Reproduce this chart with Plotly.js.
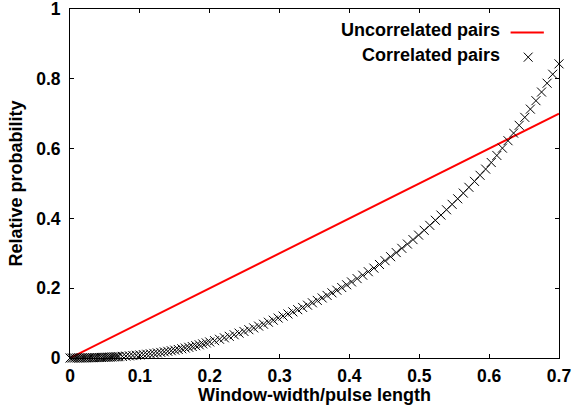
<!DOCTYPE html>
<html><head><meta charset="utf-8">
<script src="https://cdn.plot.ly/plotly-3.0.1.min.js"></script>
<style>html,body{margin:0;padding:0;background:#fff}#chart{width:573px;height:405px}</style>
</head><body><div id="chart"></div>
<script>
// Series names
const seriesNames = ['Uncorrelated pairs', 'Correlated pairs'];

// Uncorrelated pairs (straight line)
const uncorrX = [0, 0.7];
const uncorrY = [0, 0.7];

// Correlated pairs
const corrX = [
  0, 0.0025, 0.005, 0.0075, 0.01, 0.0125, 0.015, 0.0175, 0.02, 0.0225, 0.025, 0.0275, 0.03, 0.0325, 0.035,
  0.0375, 0.04, 0.0425, 0.045, 0.0475, 0.05, 0.0525, 0.055, 0.0575, 0.06, 0.0625, 0.065, 0.0675, 0.07,
  0.075, 0.08, 0.085, 0.09, 0.095, 0.1, 0.105, 0.11, 0.115, 0.12, 0.125, 0.13, 0.135, 0.14, 0.145,
  0.15, 0.155, 0.16, 0.165, 0.17, 0.175, 0.18, 0.185, 0.19, 0.195, 0.2,
  0.207, 0.214, 0.221, 0.228, 0.235, 0.242, 0.249, 0.256, 0.263, 0.27, 0.277, 0.284, 0.291, 0.298,
  0.305, 0.312, 0.319, 0.326, 0.333, 0.34, 0.347, 0.354, 0.361, 0.368, 0.375, 0.382, 0.389, 0.396, 0.403,
  0.411, 0.419, 0.427, 0.435, 0.443, 0.451, 0.459, 0.467, 0.475, 0.483, 0.491, 0.499, 0.507, 0.515,
  0.523, 0.531, 0.539, 0.547, 0.555, 0.563, 0.571, 0.579, 0.587, 0.595, 0.603, 0.611, 0.619, 0.627,
  0.635, 0.643, 0.651, 0.659, 0.667, 0.675, 0.683, 0.691, 0.7
];
const corrY = [
  0, 0, 0, 0, 0.0001, 0.0001, 0.0002, 0.0002, 0.0003, 0.0004, 0.0005, 0.0006, 0.0007, 0.0008, 0.001,
  0.0011, 0.0013, 0.0014, 0.0016, 0.0018, 0.002, 0.0022, 0.0024, 0.0026, 0.0029, 0.0031, 0.0034, 0.0036, 0.0039,
  0.0046, 0.0054, 0.0061, 0.0070, 0.0078, 0.0087, 0.0097, 0.0108, 0.0120, 0.0133, 0.0146, 0.0160, 0.0175, 0.0191, 0.0208,
  0.0225, 0.0244, 0.0264, 0.0285, 0.0306, 0.0329, 0.0353, 0.0378, 0.0404, 0.0432, 0.046,
  0.0497, 0.0537, 0.0578, 0.0621, 0.0666, 0.0713, 0.0761, 0.0811, 0.0862, 0.0914, 0.0968, 0.1025, 0.1083, 0.1144,
  0.1202, 0.1262, 0.1322, 0.1385, 0.1449, 0.1514, 0.1582, 0.1650, 0.1721, 0.1793, 0.1867, 0.1942, 0.2019, 0.2098, 0.2179,
  0.2275, 0.2373, 0.2473, 0.2575, 0.2680, 0.2788, 0.2903, 0.3021, 0.3142, 0.3265, 0.3392, 0.3521, 0.3659, 0.3801,
  0.3946, 0.4095, 0.4247, 0.4403, 0.4562, 0.4725, 0.4891, 0.5061, 0.5235, 0.5413, 0.5601, 0.5804, 0.6013, 0.6226,
  0.6444, 0.6667, 0.6895, 0.7131, 0.7373, 0.7620, 0.7873, 0.8131, 0.8428
];

// Tick labels
const xTickVals = [0, 0.1, 0.2, 0.3, 0.4, 0.5, 0.6, 0.7];
const xTickText = ['0', '0.1', '0.2', '0.3', '0.4', '0.5', '0.6', '0.7'];
const yTickVals = [0, 0.2, 0.4, 0.6, 0.8, 1];
const yTickText = ['0', '0.2', '0.4', '0.6', '0.8', '1'];

const FONT = 'Liberation Sans, Arial, Helvetica, sans-serif';

const traces = [
  {
    x: uncorrX, y: uncorrY, name: seriesNames[0], type: 'scatter', mode: 'lines',
    line: {color: '#ff0000', width: 2}, hoverinfo: 'skip'
  },
  {
    x: corrX, y: corrY, name: seriesNames[1], type: 'scatter', mode: 'markers',
    marker: {symbol: 'x-thin-open', size: 9, color: '#000000', line: {color: '#000000', width: 1}},
    cliponaxis: false, hoverinfo: 'skip'
  }
];

const axisCommon = {
  showgrid: false, zeroline: false, showline: true, linecolor: '#000', linewidth: 1,
  mirror: 'ticks', ticks: 'inside', ticklen: 4, tickwidth: 1, tickcolor: '#000',
  tickfont: {family: FONT, size: 17.5, color: '#000', weight: 'bold'},
  tickmode: 'array', fixedrange: true, ticklabeloverflow: 'allow'
};

// legend (gnuplot style: text then sample), in paper coords
const legendTextX = 0.883;
const legendRows = [0.940, 0.868];

const layout = {
  width: 573, height: 405,
  margin: {l: 70, r: 14, t: 9, b: 47, pad: 0},
  paper_bgcolor: '#fff', plot_bgcolor: '#fff',
  showlegend: false,
  xaxis: Object.assign({}, axisCommon, {
    range: [0, 0.7], tickvals: xTickVals, ticktext: xTickText,
    ticklabelstandoff: 2,
    title: {text: 'Window-width/pulse length', standoff: 6,
            font: {family: FONT, size: 18, color: '#000', weight: 'bold'}}
  }),
  yaxis: Object.assign({}, axisCommon, {
    range: [0, 1], tickvals: yTickVals, ticktext: yTickText,
    ticklabelstandoff: 5,
    title: {text: 'Relative probability', standoff: 8,
            font: {family: FONT, size: 18, color: '#000', weight: 'bold'}}
  }),
  annotations: [
    {xref: 'paper', yref: 'paper', x: legendTextX, y: legendRows[0], xanchor: 'right', yanchor: 'middle',
     text: seriesNames[0], showarrow: false, font: {family: FONT, size: 18, color: '#000', weight: 'bold'}},
    {xref: 'paper', yref: 'paper', x: legendTextX, y: legendRows[1], xanchor: 'right', yanchor: 'middle',
     text: seriesNames[1], showarrow: false, font: {family: FONT, size: 18, color: '#000', weight: 'bold'}}
  ],
  shapes: [
    {type: 'line', xref: 'paper', yref: 'paper', x0: 0.901, x1: 0.969, y0: 0.933, y1: 0.933,
     line: {color: '#ff0000', width: 2}},
    {type: 'line', xref: 'paper', yref: 'paper', x0: 0.928, x1: 0.946, y0: 0.849, y1: 0.875,
     line: {color: '#000', width: 1}},
    {type: 'line', xref: 'paper', yref: 'paper', x0: 0.928, x1: 0.946, y0: 0.875, y1: 0.849,
     line: {color: '#000', width: 1}}
  ]
};

Plotly.newPlot('chart', traces, layout, {staticPlot: true, displayModeBar: false});
</script>
</body></html>
